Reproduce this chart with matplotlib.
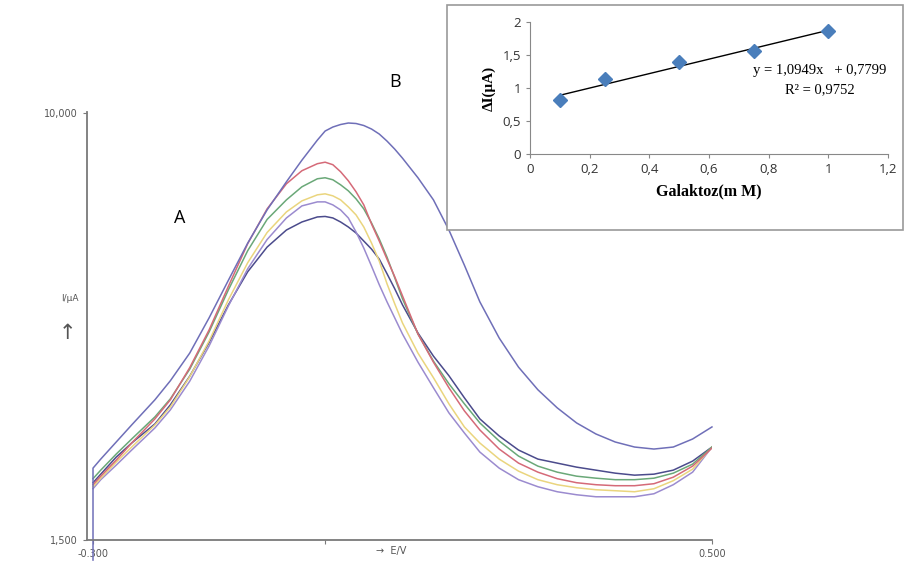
import numpy as np
import matplotlib.pyplot as plt
from matplotlib.patches import Rectangle

# --- voltammogramlar (A) ---
E = [-0.30, -0.29, -0.27, -0.25, -0.22, -0.20, -0.175, -0.15, -0.125, -0.10,
     -0.075, -0.05, -0.03, -0.01, 0.00, 0.01, 0.02, 0.03, 0.04, 0.05, 0.06,
     0.07, 0.08, 0.09, 0.10, 0.12, 0.14, 0.16, 0.18, 0.20, 0.225, 0.25, 0.275,
     0.30, 0.325, 0.35, 0.375, 0.40, 0.425, 0.45, 0.475, 0.50]

i_mavi = [2.93, 3.11, 3.45, 3.79, 4.29, 4.67, 5.22, 5.92, 6.67, 7.41,
          8.07, 8.63, 9.06, 9.46, 9.64, 9.72, 9.77, 9.80, 9.79, 9.75, 9.68,
          9.58, 9.44, 9.28, 9.10, 8.71, 8.27, 7.67, 6.97, 6.24, 5.52, 4.94, 4.49,
          4.13, 3.83, 3.61, 3.45, 3.35, 3.31, 3.35, 3.51, 3.75]
i_kirmizi = [2.60, 2.77, 3.09, 3.43, 3.91, 4.29, 4.93, 5.68, 6.55, 7.40,
             8.09, 8.59, 8.85, 8.99, 9.02, 8.97, 8.83, 8.65, 8.43, 8.17, 7.79,
             7.45, 7.09, 6.74, 6.36, 5.60, 5.04, 4.53, 4.07, 3.69, 3.31, 3.03, 2.85,
             2.72, 2.64, 2.60, 2.58, 2.58, 2.62, 2.75, 2.97, 3.33]
i_yesil = [2.72, 2.89, 3.21, 3.51, 3.95, 4.31, 4.90, 5.64, 6.48, 7.26,
           7.88, 8.27, 8.53, 8.69, 8.71, 8.67, 8.57, 8.45, 8.29, 8.09, 7.81,
           7.49, 7.13, 6.72, 6.30, 5.60, 5.06, 4.61, 4.21, 3.83, 3.47, 3.17, 2.97,
           2.85, 2.77, 2.73, 2.70, 2.70, 2.73, 2.83, 3.01, 3.35]
i_sari = [2.56, 2.73, 3.05, 3.35, 3.79, 4.15, 4.75, 5.46, 6.28, 7.02,
          7.62, 8.03, 8.25, 8.37, 8.39, 8.35, 8.27, 8.13, 7.97, 7.73, 7.41,
          7.05, 6.60, 6.20, 5.82, 5.22, 4.73, 4.21, 3.75, 3.43, 3.11, 2.87, 2.70,
          2.60, 2.54, 2.50, 2.48, 2.46, 2.52, 2.68, 2.91, 3.35]
i_mor = [2.52, 2.70, 2.99, 3.29, 3.73, 4.09, 4.66, 5.36, 6.16, 6.90,
         7.48, 7.91, 8.15, 8.23, 8.23, 8.17, 8.07, 7.91, 7.63, 7.31, 6.95,
         6.58, 6.24, 5.92, 5.60, 5.04, 4.53, 4.03, 3.63, 3.25, 2.93, 2.70, 2.56,
         2.46, 2.40, 2.36, 2.36, 2.36, 2.42, 2.60, 2.85, 3.35]
i_lacivert = [2.64, 2.81, 3.15, 3.43, 3.81, 4.19, 4.76, 5.43, 6.18, 6.84,
              7.33, 7.67, 7.83, 7.93, 7.94, 7.91, 7.83, 7.73, 7.61, 7.45, 7.29,
              7.09, 6.80, 6.50, 6.18, 5.62, 5.16, 4.77, 4.33, 3.91, 3.57, 3.29, 3.11,
              3.03, 2.95, 2.89, 2.83, 2.79, 2.81, 2.89, 3.07, 3.35]

# --- kalibrasyon (B) ---
galaktoz = [0.1, 0.25, 0.5, 0.75, 1.0]
delta_i = [0.82, 1.13, 1.39, 1.56, 1.87]
egim, kesim = 1.0949, 0.7799

fig = plt.figure(figsize=(9.05, 5.64), dpi=100)

ax = fig.add_axes([0.0961, 0.0426, 0.6906, 0.7589])
seriler = [(i_lacivert, '#4b4b8c'), (i_mor, '#9b8bcf'), (i_sari, '#ead57e'),
           (i_yesil, '#6aa878'), (i_kirmizi, '#d56a78')]
for y, renk in seriler:
    ax.plot(E, y, color=renk, lw=1.1, solid_joinstyle='round')
ax.plot([E[0]] + E, [1.1] + i_mavi, color='#6f6fb8', lw=1.1, clip_on=False,
        solid_joinstyle='round')

ax.set_xlim(-0.3078, 0.5)
ax.set_ylim(1.5, 10.02)
for s in ['top', 'right']:
    ax.spines[s].set_visible(False)
for s in ['left', 'bottom']:
    ax.spines[s].set_color('#7a7a7a')
    ax.spines[s].set_linewidth(1.3)
ax.set_yticks([1.5, 10.0])
ax.set_yticklabels(['1,500', '10,000'])
ax.set_xticks([-0.3, 0.0, 0.5])
ax.set_xticklabels(['-0.300', '', '0.500'])
ax.tick_params(colors='#7a7a7a', labelcolor='#555555', labelsize=7, length=3)
ax.text(0.462, -0.026, '\u2192  E/V', transform=ax.transAxes, ha='left',
        va='center', fontsize=7, color='#555555')
fig.text(0.077, 0.471, 'I/\u03bcA', ha='center', va='center', fontsize=6.5,
         color='#555555')
fig.text(0.075, 0.41, '\u2191', ha='center', va='center', fontsize=15,
         color='#555555')

fig.text(180 / 905, 1 - 218 / 564, 'A', ha='center', va='center', fontsize=13,
         family='Open Sans')
fig.text(395 / 905, 1 - 82 / 564, 'B', ha='center', va='center', fontsize=13,
         family='Open Sans')

# inset
fig.patches.append(Rectangle((447 / 905, 1 - 230 / 564), 456 / 905, 225 / 564,
                             transform=fig.transFigure, fill=True, fc='white',
                             ec='#9a9a9a', lw=1.2, zorder=1))
bx = fig.add_axes([0.5856, 0.7270, 0.3956, 0.2340])
bx.set_zorder(3)
bx.patch.set_alpha(0)
xf = np.array([galaktoz[0], galaktoz[-1]])
bx.plot(xf, egim * xf + kesim, color='black', lw=1)
bx.plot(galaktoz, delta_i, 'D', color='#4a7ebb', ms=7.5)
bx.set_xlim(0, 1.2)
bx.set_ylim(0, 2)
bx.set_xticks(np.arange(0, 1.21, 0.2))
bx.set_xticklabels(['0', '0,2', '0,4', '0,6', '0,8', '1', '1,2'])
bx.set_yticks([0, 0.5, 1, 1.5, 2])
bx.set_yticklabels(['0', '0,5', '1', '1,5', '2'])
for s in ['top', 'right']:
    bx.spines[s].set_visible(False)
for s in ['left', 'bottom']:
    bx.spines[s].set_color('#888888')
bx.tick_params(colors='#888888', labelcolor='#333333', labelsize=9.5, length=3)
for lab in bx.get_xticklabels() + bx.get_yticklabels():
    lab.set_family('Open Sans')
bx.set_xlabel('Galaktoz(m M)', family='Liberation Serif', fontweight='bold',
              fontsize=11.5, labelpad=5)
bx.set_ylabel('\u0394I(\u03bcA)', family='Liberation Serif', fontweight='bold',
              fontsize=11, labelpad=5)
bx.text(0.748, 1.27, 'y = 1,0949x   + 0,7799', family='Liberation Serif',
        fontsize=10.5, ha='left', va='center')
bx.text(0.855, 0.97, 'R\u00b2 = 0,9752', family='Liberation Serif',
        fontsize=10.5, ha='left', va='center')

fig.savefig('out.png', dpi=100)
